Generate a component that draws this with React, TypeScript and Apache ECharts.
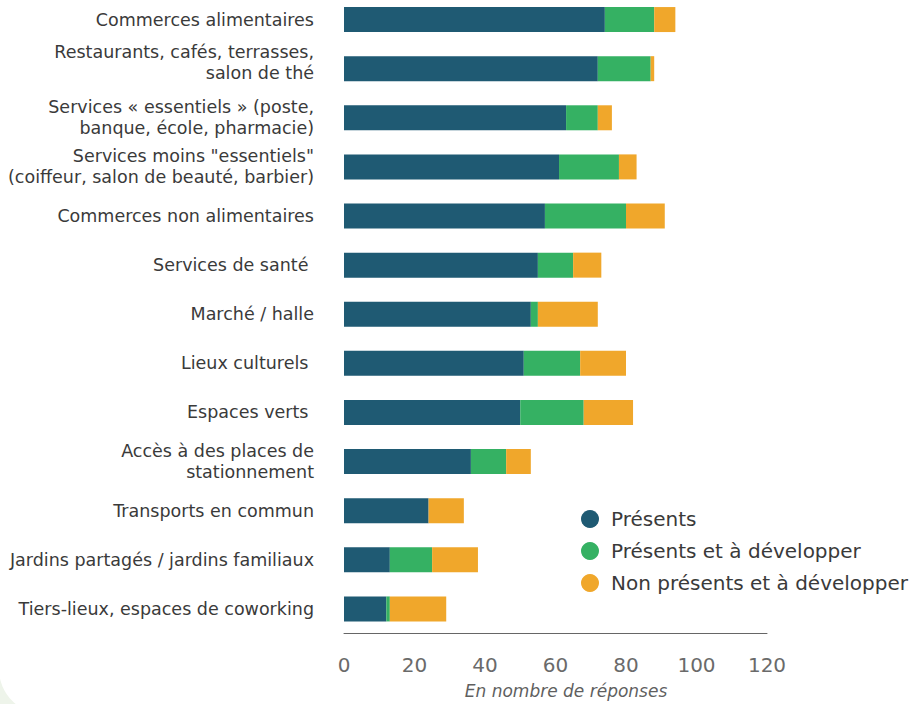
import React, { useEffect, useRef } from "react";
import * as echarts from "echarts";

const categories = [
  "Commerces alimentaires",
  "Restaurants, cafés, terrasses,\nsalon de thé",
  "Services « essentiels » (poste,\nbanque, école, pharmacie)",
  "Services moins \"essentiels\"\n(coiffeur, salon de beauté, barbier)",
  "Commerces non alimentaires",
  "Services de santé ",
  "Marché / halle",
  "Lieux culturels ",
  "Espaces verts ",
  "Accès à des places de\nstationnement",
  "Transports en commun",
  "Jardins partagés / jardins familiaux",
  "Tiers-lieux, espaces de coworking",
];

const presents = [74, 72, 63, 61, 57, 55, 53, 51, 50, 36, 24, 13, 12];
const presentsDev = [14, 15, 9, 17, 23, 10, 2, 16, 18, 10, 0, 12, 1];
const nonPresentsDev = [6, 1, 4, 5, 11, 8, 17, 13, 14, 7, 10, 13, 16];

const seriesNames = ["Présents", "Présents et à développer", "Non présents et à développer"];
const colors = ["#1f5a73", "#35b163", "#f0a72b"];
const xTicks = { min: 0, max: 120, interval: 20 };
const axisTitle = "En nombre de réponses";

const FONT = "'DejaVu Sans', sans-serif";
const OFF = 5; // div is shifted up by this many pixels

export default function App() {
  const ref = useRef<HTMLDivElement>(null);
  useEffect(() => {
    if (!ref.current) return;
    const chart = echarts.init(ref.current, undefined, { renderer: "svg" });
    const data = [presents, presentsDev, nonPresentsDev];
    chart.setOption({
      animation: false,
      backgroundColor: "#eef4ea",
      textStyle: { fontFamily: FONT },
      graphic: [
        {
          type: "rect",
          z: -10,
          silent: true,
          shape: { x: -1, y: -100, width: 1000, height: 714 + OFF + 100, r: [0, 0, 0, 45] },
          style: { fill: "#ffffff" },
        },
        {
          type: "text",
          x: 566,
          y: 691 + OFF,
          style: {
            text: axisTitle,
            fontFamily: FONT,
            fontStyle: "italic",
            fontSize: 17,
            fill: "#5f5f5f",
            align: "center",
            verticalAlign: "middle",
          },
        },
      ],
      legend: {
        orient: "vertical",
        left: 581,
        top: 509 + OFF,
        padding: 0,
        icon: "circle",
        itemWidth: 18,
        itemHeight: 18,
        itemGap: 12,
        data: seriesNames,
        textStyle: { fontFamily: FONT, fontSize: 20, color: "#3a3a3a", lineHeight: 20, padding: [0, 0, 0, 7] },
      },
      grid: { left: 344, right: 151, top: 0, bottom: 70.5, containLabel: false },
      xAxis: {
        type: "value",
        min: xTicks.min,
        max: xTicks.max,
        interval: xTicks.interval,
        axisLine: { show: true, lineStyle: { color: "#666", width: 1 } },
        axisTick: { show: false },
        splitLine: { show: false },
        axisLabel: { fontFamily: FONT, fontSize: 20, color: "#6a6a6a", margin: 21 },
      },
      yAxis: {
        type: "category",
        inverse: true,
        data: categories,
        axisLine: { show: false },
        axisTick: { show: false },
        axisLabel: {
          fontFamily: FONT,
          fontSize: 17.5,
          lineHeight: 21,
          color: "#3a3a3a",
          margin: 30,
          align: "right",
          formatter: (v: string, i: number) =>
            i === 1 ? v.split("\n").map((l) => `{a|${l}}`).join("\n") + "\n{s| }" : v,
          rich: {
            a: { fontFamily: FONT, fontSize: 17.5, lineHeight: 21, color: "#3a3a3a", align: "right" },
            s: { fontSize: 6, lineHeight: 12, align: "right" },
          },
        },
      },
      series: seriesNames.map((name, i) => ({
        name,
        type: "bar",
        stack: "total",
        barWidth: 25,
        itemStyle: { color: colors[i] },
        data: data[i],
      })),
    });
    return () => chart.dispose();
  }, []);
  return <div ref={ref} style={{ position: "fixed", left: 0, top: -OFF, width: 918, height: 704 + OFF }} />;
}
